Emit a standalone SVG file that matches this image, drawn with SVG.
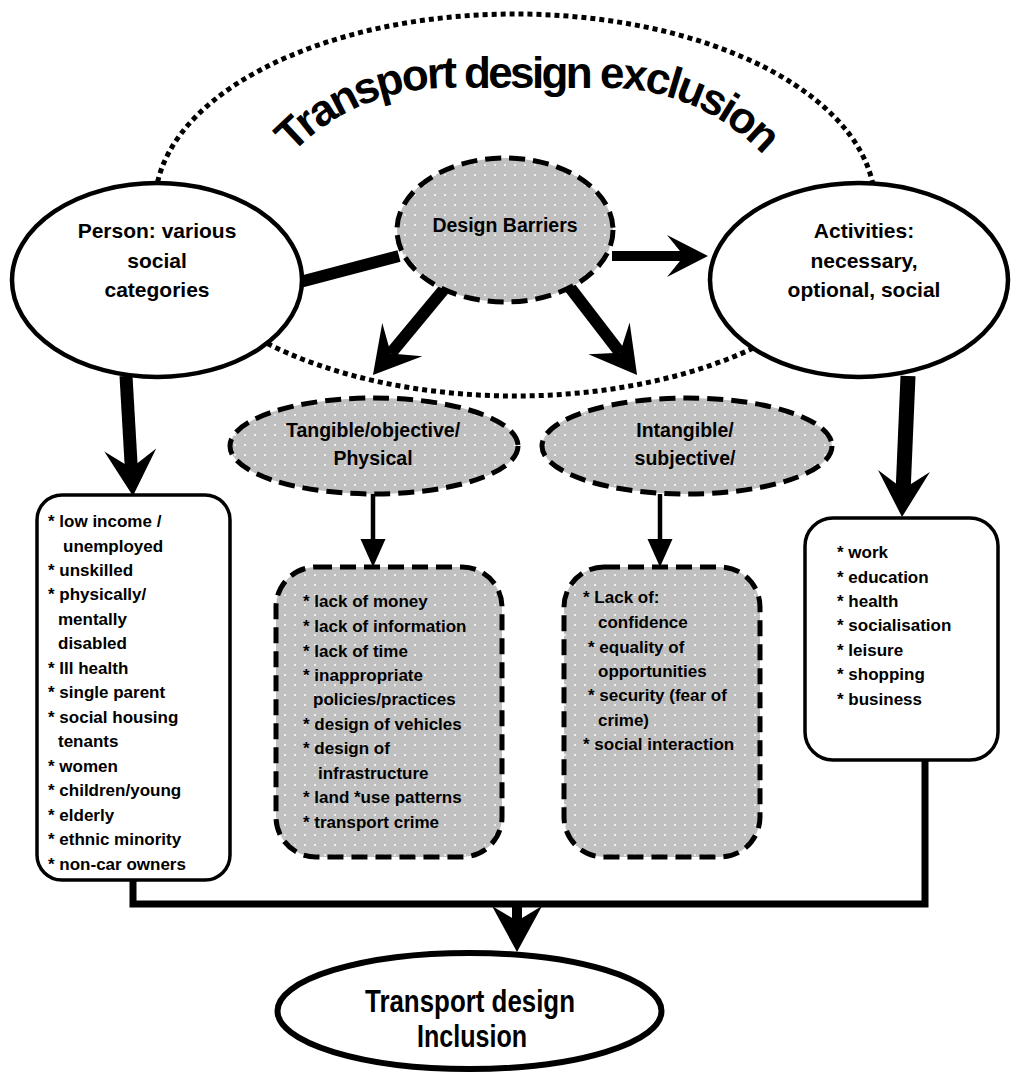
<svg xmlns="http://www.w3.org/2000/svg" width="1012" height="1073" viewBox="0 0 1012 1073">
<style>
text{font-family:"Liberation Sans",Arial,sans-serif;font-weight:bold;fill:#000}
.title{font-size:44px;letter-spacing:-2.6px}
.lbl{font-size:21px;text-anchor:middle}
.sub{font-size:19.5px;text-anchor:middle}
.lst{font-size:17px}
.solid{fill:#fff;stroke:#000;stroke-width:4.5}
.dash{fill:url(#dots);stroke:#000;stroke-width:5;stroke-dasharray:16 8}
.conn{stroke:#000;fill:none}
</style>
<defs>
<pattern id="dots" width="10" height="10" patternUnits="userSpaceOnUse">
<rect width="10" height="10" fill="#c0c0c0"/>
<circle cx="5" cy="5" r="1" fill="#fff"/>
</pattern>
<marker id="barb" markerUnits="userSpaceOnUse" viewBox="-20 -30 50 60" markerWidth="50" markerHeight="60" refX="0" refY="0" orient="auto" overflow="visible">
<path d="M28,0 L-18,-26 L0,0 L-18,26 Z" fill="#000"/>
</marker>
<marker id="barbS" markerUnits="userSpaceOnUse" viewBox="-20 -25 45 50" markerWidth="45" markerHeight="50" refX="0" refY="0" orient="auto" overflow="visible">
<path d="M24,0 L-17,-21 L0,0 L-17,21 Z" fill="#000"/>
</marker>
<marker id="tri" markerUnits="userSpaceOnUse" viewBox="-4 -13 32 26" markerWidth="32" markerHeight="26" refX="0" refY="0" orient="auto" overflow="visible">
<path d="M26,0 L-2,-12.5 L-2,12.5 Z" fill="#000"/>
</marker>
<path id="arc" d="M 282.3 164.8 A 215 215 0 0 1 447 88 L 607 88 A 215 215 0 0 1 771.7 164.8"/>
</defs>
<rect width="1012" height="1073" fill="#fff"/>

<g id="exclusion">
<ellipse cx="515" cy="205" rx="360" ry="191" fill="none" stroke="#000" stroke-width="5" stroke-dasharray="5 4"/>
<text class="title" text-anchor="middle"><textPath href="#arc" startOffset="50%">Transport design exclusion</textPath></text>
</g>

<g id="connectors">
<line class="conn" x1="300" y1="282" x2="399" y2="256" stroke-width="12"/>
<line class="conn" x1="126" y1="376" x2="131.3" y2="468" stroke-width="13" marker-end="url(#barb)"/>
<line class="conn" x1="908" y1="376" x2="903.2" y2="489" stroke-width="15" marker-end="url(#barb)"/>
<line class="conn" x1="612" y1="256" x2="684" y2="256" stroke-width="10" marker-end="url(#barbS)"/>
<line class="conn" x1="445" y1="288" x2="390.8" y2="353.4" stroke-width="12" marker-end="url(#barb)"/>
<line class="conn" x1="568" y1="285" x2="620" y2="352.7" stroke-width="12" marker-end="url(#barb)"/>
<line class="conn" x1="373" y1="494" x2="373" y2="541" stroke-width="4.5" marker-end="url(#tri)"/>
<line class="conn" x1="660" y1="494" x2="660" y2="541" stroke-width="4.5" marker-end="url(#tri)"/>
<polyline class="conn" points="133,880 133,904 925,904 925,760" stroke-width="7"/>
<line class="conn" x1="517" y1="904" x2="517" y2="926" stroke-width="10"/>
<polygon points="492,906 517,952 542,906 517,921" fill="#000"/>
</g>

<g id="person">
<ellipse class="solid" cx="157" cy="280" rx="145" ry="97"/>
<text class="lbl" x="157" y="238">Person: various</text>
<text class="lbl" x="157" y="268">social</text>
<text class="lbl" x="157" y="297">categories</text>
</g>

<g id="design-barriers">
<ellipse class="dash" cx="505" cy="230" rx="108" ry="72"/>
<text class="sub" x="505" y="232">Design Barriers</text>
</g>

<g id="activities">
<ellipse class="solid" cx="859" cy="280" rx="149" ry="97"/>
<text class="lbl" x="864" y="238">Activities:</text>
<text class="lbl" x="864" y="268">necessary,</text>
<text class="lbl" x="864" y="297">optional, social</text>
</g>

<g id="tangible">
<ellipse class="dash" cx="374" cy="446" rx="144" ry="48"/>
<text class="sub" x="373" y="437">Tangible/objective/</text>
<text class="sub" x="373" y="465">Physical</text>
</g>

<g id="intangible">
<ellipse class="dash" cx="687" cy="446" rx="145" ry="48"/>
<text class="sub" x="685" y="437">Intangible/</text>
<text class="sub" x="685" y="465">subjective/</text>
</g>

<g id="person-list">
<rect x="37" y="495" width="193" height="385" rx="25" fill="#fff" stroke="#000" stroke-width="3.5"/>
<text class="lst" x="48" y="527">* low income /</text>
<text class="lst" x="63" y="552">unemployed</text>
<text class="lst" x="48" y="576">* unskilled</text>
<text class="lst" x="48" y="600">* physically/</text>
<text class="lst" x="58" y="625">mentally</text>
<text class="lst" x="58" y="649">disabled</text>
<text class="lst" x="48" y="674">* Ill health</text>
<text class="lst" x="48" y="698">* single parent</text>
<text class="lst" x="48" y="723">* social housing</text>
<text class="lst" x="58" y="747">tenants</text>
<text class="lst" x="48" y="772">* women</text>
<text class="lst" x="48" y="796">* children/young</text>
<text class="lst" x="48" y="821">* elderly</text>
<text class="lst" x="48" y="845">* ethnic minority</text>
<text class="lst" x="48" y="870">* non-car owners</text>
</g>

<g id="tangible-list">
<rect class="dash" x="276" y="567" width="226" height="290" rx="40"/>
<text class="lst" x="303" y="607">* lack of money</text>
<text class="lst" x="303" y="632">* lack of information</text>
<text class="lst" x="303" y="657">* lack of time</text>
<text class="lst" x="303" y="681">* inappropriate</text>
<text class="lst" x="313" y="705">policies/practices</text>
<text class="lst" x="303" y="730">* design of vehicles</text>
<text class="lst" x="303" y="754">* design of</text>
<text class="lst" x="318" y="779">infrastructure</text>
<text class="lst" x="303" y="803">* land *use patterns</text>
<text class="lst" x="303" y="828">* transport crime</text>
</g>

<g id="intangible-list">
<rect class="dash" x="564" y="567" width="196" height="290" rx="40"/>
<text class="lst" x="583" y="603">* Lack of:</text>
<text class="lst" x="598" y="628">confidence</text>
<text class="lst" x="588" y="653">* equality of</text>
<text class="lst" x="598" y="677">opportunities</text>
<text class="lst" x="588" y="701">* security (fear of</text>
<text class="lst" x="598" y="726">crime)</text>
<text class="lst" x="583" y="750">* social interaction</text>
</g>

<g id="activities-list">
<rect x="805" y="518" width="193" height="242" rx="28" fill="#fff" stroke="#000" stroke-width="3.5"/>
<text class="lst" x="837" y="558">* work</text>
<text class="lst" x="837" y="583">* education</text>
<text class="lst" x="837" y="607">* health</text>
<text class="lst" x="837" y="631">* socialisation</text>
<text class="lst" x="837" y="656">* leisure</text>
<text class="lst" x="837" y="680">* shopping</text>
<text class="lst" x="837" y="705">* business</text>
</g>

<g id="inclusion">
<ellipse cx="469.5" cy="1011" rx="192" ry="58" fill="#fff" stroke="#000" stroke-width="6"/>
<text x="470" y="1012" style="font-size:32px;text-anchor:middle" textLength="210" lengthAdjust="spacingAndGlyphs">Transport design</text>
<text x="472" y="1047" style="font-size:32px;text-anchor:middle" textLength="110" lengthAdjust="spacingAndGlyphs">Inclusion</text>
</g>
</svg>
